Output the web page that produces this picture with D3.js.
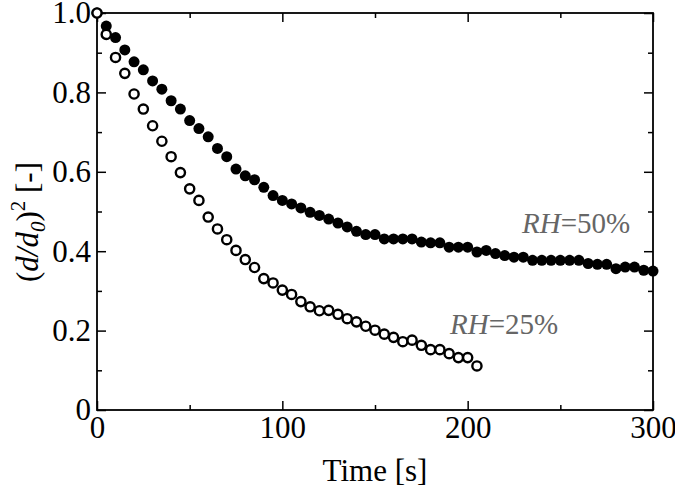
<!DOCTYPE html>
<html>
<head>
<meta charset="utf-8">
<title>Droplet size</title>
<script src="https://d3js.org/d3.v7.min.js"></script>
<style>
  body { margin: 0; background: #fff; }
  text { font-family: "Liberation Serif", "Times New Roman", serif; }
</style>
</head>
<body>
<div id="chart"></div>
<script>
// time step of the measurements [s]
let timeRH50 = d3.range(0, 301, 5);
let valuesRH50 = [
  1.00, 0.967, 0.938, 0.907, 0.877, 0.857, 0.829, 0.808, 0.779, 0.758,
  0.729, 0.709, 0.688, 0.659, 0.638, 0.607, 0.590, 0.580, 0.561, 0.540,
  0.528, 0.519, 0.509, 0.498, 0.490, 0.481, 0.471, 0.461, 0.450, 0.442,
  0.442, 0.431, 0.431, 0.431, 0.431, 0.423, 0.421, 0.421, 0.410, 0.410,
  0.410, 0.398, 0.402, 0.394, 0.389, 0.385, 0.385, 0.377, 0.377, 0.377,
  0.377, 0.377, 0.377, 0.369, 0.367, 0.367, 0.356, 0.360, 0.360, 0.352,
  0.350
];
let timeRH25 = d3.range(0, 206, 5);
let valuesRH25 = [
  1.00, 0.946, 0.888, 0.848, 0.796, 0.758, 0.716, 0.677, 0.638, 0.598,
  0.557, 0.528, 0.486, 0.456, 0.429, 0.402, 0.379, 0.359, 0.331, 0.320,
  0.302, 0.291, 0.273, 0.260, 0.250, 0.251, 0.241, 0.230, 0.222, 0.211,
  0.201, 0.191, 0.183, 0.172, 0.176, 0.163, 0.152, 0.152, 0.142, 0.132,
  0.132, 0.111
];
let xTicks = [0, 100, 200, 300];
let yTicks = [0, 0.2, 0.4, 0.6, 0.8, 1.0];
let yTickLabels = ["0", "0.2", "0.4", "0.6", "0.8", "1.0"];

let W = 675, H = 489;
let margin = {top: 13, right: 22, bottom: 79, left: 97};
let w = W - margin.left - margin.right;
let h = H - margin.top - margin.bottom;

let svg = d3.select("#chart").append("svg")
  .attr("width", W).attr("height", H);
let g = svg.append("g")
  .attr("transform", "translate(" + margin.left + "," + margin.top + ")");

let x = d3.scaleLinear().domain([0, 300]).range([0, w]);
let y = d3.scaleLinear().domain([0, 1]).range([h, 0]);

// minor + major ticks, pointing inward on all four sides
function drawAxis(axis, tr, major, minor, fmt, pad) {
  let a = g.append("g").attr("transform", tr);
  a.call(axis.tickValues(minor).tickSize(-5).tickFormat(""));
  a.selectAll(".domain").remove();
  let b = g.append("g").attr("transform", tr);
  b.call(axis.tickValues(major).tickSize(-9).tickPadding(pad).tickFormat(fmt));
  b.selectAll(".domain").remove();
  a.selectAll("line").attr("stroke", "#000").attr("stroke-width", 1.5);
  b.selectAll("line").attr("stroke", "#000").attr("stroke-width", 1.5);
  b.selectAll("text").attr("font-size", 31).attr("fill", "#000");
  return b;
}
let xMinor = [50, 150, 250];
let yMinor = [0.1, 0.3, 0.5, 0.7, 0.9];
drawAxis(d3.axisBottom(x), "translate(0," + h + ")", xTicks, xMinor, d => d, 6);
drawAxis(d3.axisTop(x), "translate(0,0)", xTicks, xMinor, "", 6);
drawAxis(d3.axisLeft(y), "translate(0,0)", yTicks, yMinor, (d, i) => yTickLabels[i], 6);
drawAxis(d3.axisRight(y), "translate(" + w + ",0)", yTicks, yMinor, "", 6);

g.append("rect").attr("width", w).attr("height", h)
  .attr("fill", "none").attr("stroke", "#000").attr("stroke-width", 1.8);

// RH = 50% (filled)
g.selectAll(".p50").data(timeRH50).enter().append("circle")
  .attr("class", "p50")
  .attr("cx", d => x(d))
  .attr("cy", (d, i) => y(valuesRH50[i]))
  .attr("r", 5.5)
  .attr("fill", "#000");

// RH = 25% (open)
g.selectAll(".p25").data(timeRH25).enter().append("circle")
  .attr("class", "p25")
  .attr("cx", d => x(d))
  .attr("cy", (d, i) => y(valuesRH25[i]))
  .attr("r", 4.6)
  .attr("fill", "#fff")
  .attr("stroke", "#000")
  .attr("stroke-width", 2.4);

// series labels
function seriesLabel(px, py, rest) {
  let t = svg.append("text").attr("x", px).attr("y", py)
    .attr("font-size", 29).attr("fill", "#666");
  t.append("tspan").attr("font-style", "italic").text("RH");
  t.append("tspan").text(rest);
}
seriesLabel(522, 233, "=50%");
seriesLabel(450, 334, "=25%");

// axis titles
svg.append("text")
  .attr("x", margin.left + w / 2).attr("y", 481)
  .attr("text-anchor", "middle").attr("font-size", 31)
  .text("Time [s]");

let yl = svg.append("text")
  .attr("transform", "translate(38,222) rotate(-90)")
  .attr("text-anchor", "middle").attr("font-size", 31);
yl.append("tspan").text("(");
yl.append("tspan").attr("font-style", "italic").text("d/d");
yl.append("tspan").attr("font-style", "italic").attr("font-size", 21).attr("dy", 7).text("0");
yl.append("tspan").attr("dy", -7).text(")");
yl.append("tspan").attr("font-size", 21).attr("dy", -13).text("2");
yl.append("tspan").attr("dy", 13).text(" [-]");
</script>
</body>
</html>
